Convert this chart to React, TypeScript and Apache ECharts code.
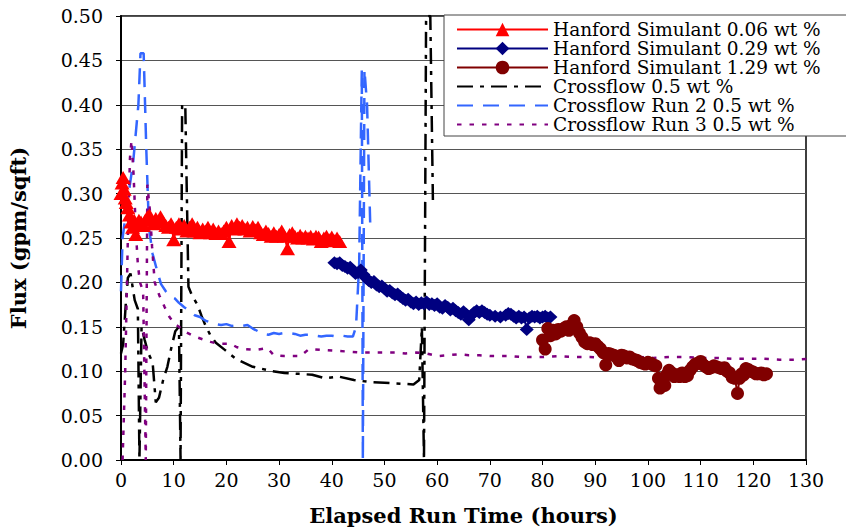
import React, { useEffect, useRef } from "react";
import * as echarts from "echarts";

const xTicksMax = 130;
const yTicksMax = 0.5;

const hanford006: [number, number][] = [
  [0.0, 0.300], [0.2, 0.312], [0.4, 0.318], [0.6, 0.305], [0.8, 0.295], [1.0, 0.290], [1.3, 0.284],
  [1.6, 0.276], [1.9, 0.268], [2.2, 0.262], [2.5, 0.270], [2.8, 0.254], [3.1, 0.265], [3.4, 0.270],
  [3.8, 0.268], [4.2, 0.264], [4.6, 0.270], [5.0, 0.274], [5.4, 0.276], [5.8, 0.270], [6.2, 0.266],
  [6.6, 0.272], [7.0, 0.268], [7.5, 0.274], [8.0, 0.268], [8.5, 0.264], [9.0, 0.262], [9.5, 0.266],
  [10.0, 0.248], [10.5, 0.262], [11.0, 0.266], [11.5, 0.260], [12.0, 0.264], [12.5, 0.258], [13.0, 0.262],
  [13.5, 0.266], [14.0, 0.258], [14.5, 0.262], [15.0, 0.256], [15.5, 0.260], [16.0, 0.258], [16.5, 0.262],
  [17.0, 0.256], [17.5, 0.260], [18.0, 0.255], [18.5, 0.258], [19.0, 0.255], [19.5, 0.258], [20.0, 0.262],
  [20.5, 0.246], [21.0, 0.264], [21.5, 0.260], [22.0, 0.266], [22.5, 0.262], [23.0, 0.264], [23.5, 0.260],
  [24.0, 0.262], [24.5, 0.258], [25.0, 0.263], [25.5, 0.259], [26.0, 0.262], [26.5, 0.256], [27.0, 0.254],
  [27.5, 0.258], [28.0, 0.255], [28.5, 0.252], [29.0, 0.256], [29.5, 0.252], [30.0, 0.254], [30.5, 0.258],
  [31.0, 0.252], [31.6, 0.238], [32.0, 0.254], [32.5, 0.256], [33.0, 0.252], [33.5, 0.250], [34.0, 0.253],
  [34.5, 0.250], [35.0, 0.252], [35.5, 0.250], [36.0, 0.252], [36.5, 0.249], [37.0, 0.252], [37.5, 0.251],
  [38.0, 0.246], [38.5, 0.250], [39.0, 0.252], [39.5, 0.248], [40.0, 0.251], [40.5, 0.247], [41.0, 0.250],
  [41.5, 0.246],
];

const hanford029: [number, number][] = [
  [40.5, 0.222], [41.0, 0.221], [41.5, 0.222], [42.0, 0.219], [42.5, 0.218], [43.0, 0.216], [43.5, 0.217],
  [44.0, 0.213], [44.5, 0.210], [45.0, 0.211], [45.5, 0.214], [46.0, 0.209], [46.5, 0.205], [47.0, 0.202],
  [47.5, 0.200], [48.0, 0.201], [48.5, 0.197], [49.0, 0.195], [49.5, 0.196], [50.0, 0.193], [50.5, 0.190],
  [51.0, 0.191], [51.5, 0.188], [52.0, 0.186], [52.5, 0.187], [53.0, 0.184], [53.5, 0.182], [54.0, 0.180],
  [54.5, 0.181], [55.0, 0.178], [55.5, 0.176], [56.0, 0.178], [56.5, 0.175], [57.0, 0.177], [57.5, 0.176],
  [58.0, 0.178], [58.5, 0.175], [59.0, 0.176], [59.5, 0.174], [60.0, 0.176], [60.5, 0.172], [61.0, 0.171],
  [61.5, 0.174], [62.0, 0.172], [62.5, 0.169], [63.0, 0.171], [63.5, 0.168], [64.0, 0.166], [64.5, 0.164],
  [65.0, 0.167], [65.5, 0.164], [66.0, 0.158], [66.5, 0.163], [67.0, 0.166], [67.5, 0.168], [68.0, 0.166],
  [68.5, 0.168], [69.0, 0.166], [69.5, 0.164], [70.0, 0.163], [71.0, 0.162], [72.0, 0.161], [73.0, 0.163],
  [73.5, 0.165], [74.0, 0.164], [74.5, 0.162], [75.0, 0.160], [75.5, 0.162], [76.0, 0.160], [76.5, 0.161],
  [77.0, 0.147], [77.5, 0.160], [78.0, 0.162], [78.5, 0.161], [79.0, 0.162], [79.5, 0.160], [80.0, 0.161],
  [80.5, 0.162], [81.0, 0.160], [81.5, 0.161],
];

const hanford129: [number, number][] = [
  [80.0, 0.135], [80.5, 0.125], [81.0, 0.148], [81.5, 0.140], [82.0, 0.146], [82.5, 0.142], [83.0, 0.147],
  [83.5, 0.145], [84.0, 0.148], [84.5, 0.150], [85.0, 0.146], [85.5, 0.152], [86.0, 0.157], [86.5, 0.150],
  [87.0, 0.143], [87.5, 0.138], [88.0, 0.133], [88.5, 0.131], [89.0, 0.132], [89.5, 0.130], [90.0, 0.131],
  [90.5, 0.128], [91.0, 0.125], [91.5, 0.121], [92.0, 0.107], [92.5, 0.120], [93.0, 0.119], [93.5, 0.118],
  [94.0, 0.116], [94.5, 0.112], [95.0, 0.118], [95.5, 0.117], [96.0, 0.115], [96.5, 0.116], [97.0, 0.114],
  [97.5, 0.113], [98.0, 0.112], [98.5, 0.110], [99.0, 0.109], [99.5, 0.108], [100.0, 0.110], [100.5, 0.109],
  [101.0, 0.107], [101.5, 0.106], [102.0, 0.092], [102.3, 0.081], [102.8, 0.088], [103.2, 0.084], [103.6, 0.096],
  [104.0, 0.101], [104.5, 0.098], [105.0, 0.094], [105.5, 0.096], [106.0, 0.094], [106.5, 0.098], [107.0, 0.094],
  [107.5, 0.095], [108.0, 0.101], [108.5, 0.105], [109.0, 0.108], [109.5, 0.109], [110.0, 0.111], [110.5, 0.107],
  [111.0, 0.105], [111.5, 0.103], [112.0, 0.104], [112.5, 0.106], [113.0, 0.105], [113.5, 0.104], [114.0, 0.103],
  [114.5, 0.104], [115.0, 0.100], [115.5, 0.098], [116.0, 0.093], [116.5, 0.092], [117.0, 0.075], [117.4, 0.092],
  [117.8, 0.097], [118.2, 0.096], [118.6, 0.103], [119.0, 0.102], [119.5, 0.100], [120.0, 0.099], [120.5, 0.097],
  [121.0, 0.097], [121.5, 0.098], [122.0, 0.096], [122.5, 0.097],
];

const crossflow: [number, number][] = [
  [0.0, 0.120], [0.4, 0.130], [0.9, 0.175], [1.3, 0.205], [1.8, 0.210], [2.6, 0.180], [3.2, 0.170],
  [3.5, 0.0], [3.9, 0.150], [4.5, 0.135], [5.2, 0.120], [6.0, 0.110], [6.6, 0.065], [7.2, 0.070],
  [8.0, 0.090], [8.8, 0.105], [9.5, 0.125], [10.3, 0.145], [11.0, 0.150], [11.3, 0.0], [11.6, 0.400],
  [12.2, 0.400], [12.8, 0.195], [13.5, 0.185], [14.5, 0.175], [15.3, 0.162], [16.0, 0.152], [17.0, 0.140],
  [18.0, 0.132], [19.7, 0.124], [21.8, 0.114], [25.0, 0.105], [28.7, 0.100], [31.0, 0.098], [33.8, 0.097],
  [36.3, 0.096], [38.7, 0.092], [41.3, 0.094], [44.2, 0.090], [47.0, 0.088], [50.0, 0.087], [53.0, 0.086],
  [55.5, 0.085], [56.6, 0.090], [57.1, 0.150], [57.5, 0.0], [57.9, 0.500], [58.7, 0.500], [59.2, 0.290],
];

const crossflowRun2: [number, number][] = [
  [0.0, 0.190], [0.3, 0.250], [1.2, 0.290], [2.3, 0.335], [3.3, 0.400], [3.7, 0.458], [4.3, 0.458],
  [4.8, 0.350], [5.3, 0.262], [6.0, 0.232], [7.0, 0.210], [7.6, 0.198], [8.5, 0.190], [9.5, 0.184],
  [10.2, 0.182], [11.0, 0.177], [12.0, 0.172], [13.0, 0.168], [14.0, 0.163], [15.0, 0.161], [16.0, 0.157],
  [17.0, 0.155], [18.0, 0.153], [19.0, 0.152], [20.0, 0.153], [21.0, 0.151], [22.0, 0.152], [23.0, 0.151],
  [24.0, 0.152], [25.0, 0.148], [26.0, 0.145], [27.0, 0.142], [28.0, 0.141], [29.0, 0.143], [30.0, 0.142],
  [31.0, 0.143], [32.0, 0.143], [33.0, 0.142], [34.0, 0.140], [35.0, 0.141], [36.0, 0.141], [37.0, 0.140],
  [38.0, 0.139], [39.0, 0.140], [40.0, 0.140], [41.0, 0.139], [42.0, 0.140], [43.0, 0.139], [44.0, 0.139],
  [44.6, 0.150], [45.2, 0.220], [45.7, 0.440], [45.9, 0.0], [46.2, 0.440], [46.7, 0.400], [47.3, 0.265],
];

const crossflowRun3: [number, number][] = [
  [0.3, 0.0], [0.8, 0.100], [1.3, 0.250], [1.7, 0.340], [2.0, 0.360], [2.4, 0.320], [2.8, 0.260],
  [3.2, 0.220], [3.6, 0.200], [4.2, 0.190], [4.7, 0.0], [5.0, 0.310], [5.5, 0.280], [5.9, 0.240],
  [6.4, 0.200], [7.3, 0.185], [8.3, 0.172], [9.2, 0.161], [10.2, 0.153], [11.0, 0.150], [12.0, 0.145],
  [13.3, 0.141], [14.5, 0.138], [15.9, 0.135], [17.0, 0.133], [18.3, 0.131], [20.8, 0.131], [22.0, 0.127],
  [23.4, 0.125], [25.5, 0.124], [27.8, 0.126], [29.0, 0.118], [31.0, 0.117], [34.0, 0.117], [35.7, 0.125],
  [38.0, 0.124], [40.7, 0.123], [43.3, 0.122], [45.7, 0.121], [48.0, 0.121], [50.0, 0.121], [52.0, 0.121],
  [54.0, 0.120], [56.0, 0.121], [58.0, 0.120], [60.0, 0.117], [62.0, 0.118], [64.0, 0.119], [66.0, 0.118],
  [68.0, 0.118], [70.0, 0.117], [72.0, 0.117], [74.0, 0.117], [76.0, 0.116], [78.0, 0.116], [80.0, 0.116],
  [83.0, 0.117], [86.0, 0.116], [89.0, 0.116], [92.0, 0.115], [95.0, 0.115], [98.0, 0.116], [101.0, 0.115],
  [104.0, 0.116], [107.0, 0.116], [110.0, 0.115], [113.0, 0.115], [116.0, 0.114], [119.0, 0.114],
  [122.0, 0.114], [125.0, 0.113], [128.0, 0.113], [131.0, 0.114],
];

const seriesNames = [
  "Hanford Simulant 0.06 wt %",
  "Hanford Simulant 0.29 wt %",
  "Hanford Simulant 1.29 wt %",
  "Crossflow 0.5 wt %",
  "Crossflow Run 2 0.5 wt %",
  "Crossflow Run 3 0.5 wt %",
];

const FONT = "DejaVu Serif";

export default function App() {
  const ref = useRef<HTMLDivElement>(null);
  useEffect(() => {
    if (!ref.current) return;
    const chart = echarts.init(ref.current, undefined, { renderer: "svg" });
    const noSymbol = { color: "transparent", opacity: 0, borderWidth: 0 };
    chart.setOption({
      animation: false,
      backgroundColor: "#ffffff",
      textStyle: { fontFamily: FONT, color: "#000" },
      grid: {
        left: 118,
        right: 40,
        top: 16,
        bottom: 67.5,
        show: true,
        borderColor: "#000",
        borderWidth: 1.5,
        backgroundColor: "transparent",
      },
      legend: {
        orient: "vertical",
        left: 444,
        top: 15,
        padding: [5, 30, 2, 12],
        itemGap: 0,
        itemWidth: 91,
        itemHeight: 17,
        selectedMode: false,
        backgroundColor: "#fff",
        borderColor: "#444",
        borderWidth: 1,
        borderRadius: 0,
        textStyle: { fontFamily: FONT, fontSize: 18.5, color: "#000", lineHeight: 18.6 },
        data: [
          { name: seriesNames[0] },
          { name: seriesNames[1] },
          { name: seriesNames[2] },
          { name: seriesNames[3], itemStyle: noSymbol },
          { name: seriesNames[4], itemStyle: noSymbol },
          { name: seriesNames[5], itemStyle: noSymbol },
        ],
      },
      xAxis: {
        type: "value",
        min: 0,
        max: xTicksMax,
        interval: 10,
        name: "Elapsed Run Time (hours)",
        nameLocation: "middle",
        nameGap: 45,
        nameTextStyle: { fontFamily: FONT, fontWeight: "bold", fontSize: 21, color: "#000" },
        axisLine: { lineStyle: { color: "#000", width: 2 } },
        axisTick: { inside: false, length: 5, lineStyle: { color: "#000", width: 1 } },
        axisLabel: { fontFamily: FONT, fontSize: 19, color: "#000", margin: 10 },
        splitLine: { show: false },
      },
      yAxis: {
        type: "value",
        min: 0,
        max: yTicksMax,
        interval: 0.05,
        name: "Flux (gpm/sqft)",
        nameLocation: "middle",
        nameGap: 92,
        nameTextStyle: { fontFamily: FONT, fontWeight: "bold", fontSize: 21, color: "#000" },
        axisLine: { show: true, lineStyle: { color: "#000", width: 2 } },
        axisTick: { show: true, inside: false, length: 5, lineStyle: { color: "#000", width: 1 } },
        axisLabel: {
          fontFamily: FONT,
          fontSize: 19,
          color: "#000",
          margin: 18,
          formatter: (v: number) => v.toFixed(2),
        },
        splitLine: { show: true, lineStyle: { color: "#555", width: 1 } },
      },
      series: [
        {
          name: seriesNames[0],
          type: "line",
          data: hanford006,
          symbol: "triangle",
          symbolSize: [15, 13],
          itemStyle: { color: "#FF0000" },
          lineStyle: { color: "#FF0000", width: 2 },
        },
        {
          name: seriesNames[1],
          type: "line",
          data: hanford029,
          symbol: "diamond",
          symbolSize: [14, 13],
          itemStyle: { color: "#000080" },
          lineStyle: { color: "#000080", width: 2 },
        },
        {
          name: seriesNames[2],
          type: "line",
          data: hanford129,
          symbol: "circle",
          symbolSize: 13,
          itemStyle: { color: "#800000" },
          lineStyle: { color: "#800000", width: 2 },
        },
        {
          name: seriesNames[3],
          type: "line",
          data: crossflow,
          symbol: "none",
          itemStyle: { color: "#000" },
          lineStyle: { color: "#000", width: 2.5, type: [16, 7, 4, 7] },
        },
        {
          name: seriesNames[4],
          type: "line",
          data: crossflowRun2,
          symbol: "none",
          itemStyle: { color: "#3366FF" },
          lineStyle: { color: "#3366FF", width: 2.5, type: [16, 10] },
        },
        {
          name: seriesNames[5],
          type: "line",
          data: crossflowRun3,
          symbol: "none",
          clip: false,
          itemStyle: { color: "#800080" },
          lineStyle: { color: "#800080", width: 2.5, type: [4.5, 8] },
        },
      ],
    });
    return () => chart.dispose();
  }, []);
  return (
    <div
      ref={ref}
      style={{ position: "fixed", left: 0, top: 0, width: 846, height: 531, background: "#fff" }}
    />
  );
}
